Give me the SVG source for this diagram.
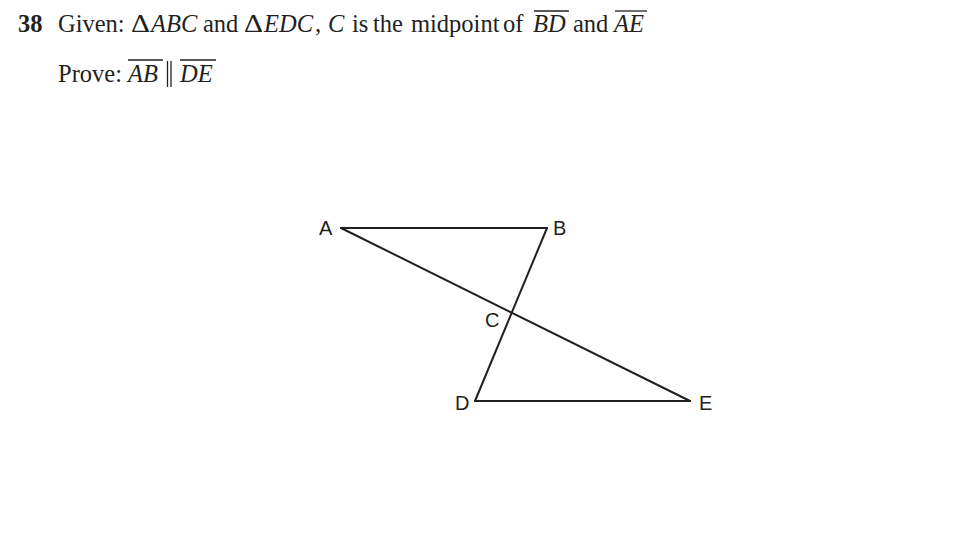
<svg xmlns="http://www.w3.org/2000/svg" width="969" height="549" viewBox="0 0 969 549">
<style>
.t{font-family:"Liberation Serif","Times New Roman",serif;font-size:24.5px;fill:#231f20}
.i{font-style:italic}
.b{font-weight:bold}
.ov{stroke:#231f20;stroke-width:1.3}
.lbl{font-family:"Liberation Sans",Arial,sans-serif;font-size:20px;fill:#231f20}
.seg{stroke:#231f20;stroke-width:2;fill:none;stroke-linecap:round;stroke-linejoin:round}
</style>
<rect width="969" height="549" fill="#ffffff"/>
<g id="problem-text">
<text class="t b" x="18" y="32">38</text>
<text class="t" x="58" y="32">Given:</text>
<text class="t" x="131" y="32" textLength="19" lengthAdjust="spacingAndGlyphs">Δ</text>
<text class="t i" x="151" y="32">ABC</text>
<text class="t" x="203" y="32">and</text>
<text class="t" x="244" y="32" textLength="19" lengthAdjust="spacingAndGlyphs">Δ</text>
<text class="t i" x="264" y="32">EDC</text>
<text class="t" x="315" y="32">,</text>
<text class="t i" x="328" y="32">C</text>
<text class="t" x="352" y="32">is</text>
<text class="t" x="373" y="32">the</text>
<text class="t" x="411" y="32">midpoint</text>
<text class="t" x="503" y="32">of</text>
<text class="t i" x="533" y="32">BD</text>
<text class="t" x="573" y="32">and</text>
<text class="t i" x="614" y="32">AE</text>
<line class="ov" x1="534" y1="11" x2="569" y2="11"/>
<line class="ov" x1="615" y1="11" x2="647" y2="11"/>
<text class="t" x="58" y="82">Prove:</text>
<text class="t i" x="128" y="82">AB</text>
<text class="t i" x="180" y="82">DE</text>
<line class="ov" x1="128" y1="60" x2="163" y2="60"/>
<line class="ov" x1="180" y1="60" x2="216" y2="60"/>
<line class="ov" x1="167.5" y1="61" x2="167.5" y2="87"/>
<line class="ov" x1="171" y1="61" x2="171" y2="87"/>
</g>
<g id="connectors">
<line id="AB" class="seg" x1="341" y1="228" x2="547" y2="228"/>
<line id="BD" class="seg" x1="547" y1="228" x2="475" y2="401"/>
<line id="DE" class="seg" x1="475" y1="401" x2="690" y2="401"/>
<line id="AE" class="seg" x1="341" y1="228" x2="690" y2="401"/>
</g>
<g id="node-A"><text class="lbl" x="319" y="235">A</text></g>
<g id="node-B"><text class="lbl" x="553" y="235">B</text></g>
<g id="node-C"><text class="lbl" x="485" y="327">C</text></g>
<g id="node-D"><text class="lbl" x="455" y="410">D</text></g>
<g id="node-E"><text class="lbl" x="699" y="410">E</text></g>
</svg>
